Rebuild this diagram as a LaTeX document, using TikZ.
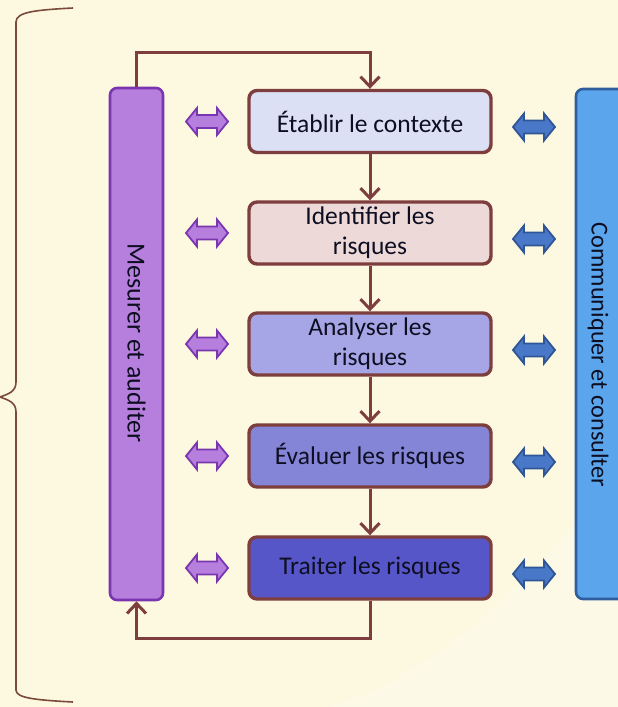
\documentclass[tikz,border=0pt]{standalone}
\usepackage{fontspec}
\setmainfont{Carlito}
\usetikzlibrary{arrows.meta,calc}
\definecolor{bg}{HTML}{FDF8E0}
\definecolor{brn}{HTML}{7E3E3E}
\definecolor{brace}{HTML}{7A4A3A}
\definecolor{purf}{HTML}{B77FDD}
\definecolor{purd}{HTML}{7A35B0}
\definecolor{bluf}{HTML}{5AA5EC}
\definecolor{blud}{HTML}{2F5E9E}
\definecolor{bluaf}{HTML}{4A78C8}
\definecolor{bluad}{HTML}{2E5596}
\definecolor{c1}{HTML}{DCE0F5}
\definecolor{c2}{HTML}{EDDAD8}
\definecolor{c3}{HTML}{A6A6E6}
\definecolor{c4}{HTML}{8585D8}
\definecolor{c5}{HTML}{5656C8}
\definecolor{txt}{HTML}{0E0E22}
\tikzset{
  stepbox/.style={draw=brn, line width=3.4pt, rounded corners=8pt, minimum width=242pt, minimum height=62pt, inner sep=0pt, align=center, text=txt, font=\fontsize{25.5}{30}\selectfont},
  flow/.style={draw=brn, line width=3pt, -{Straight Barb[length=10pt,width=19pt,line width=3pt]}},
  barlabel/.style={rotate=-90, text=txt, font=\fontsize{26}{30}\selectfont, inner sep=0pt},
  purarrow/.style={fill=purf, draw=purd, line width=1.8pt, line join=miter},
  bluarrow/.style={fill=bluaf, draw=bluad, line width=1.8pt, line join=miter},
}
\newcommand\dblarr[2]{%
  \path[#2] ($(#1)+(-21,0)$) -- ++(11,-13.5) -- ++(0,7) -- ++(20,0) -- ++(0,-7) -- ++(11,13.5) -- ++(-11,13.5) -- ++(0,-7) -- ++(-20,0) -- ++(0,7) -- cycle;}
\begin{document}
\begin{tikzpicture}[x=1pt,y=-1pt]
\clip (0,0) rectangle (618,707);
\fill[bg] (0,0) rectangle (618,707);
\fill[white,opacity=0.25] (618,470) .. controls (520,600) and (420,680) .. (330,707) -- (618,707) -- cycle;
% brace
\draw[brace, line width=1.6pt] (73,8) .. controls (35,10) and (16,12) .. (16,22) -- (16,382) .. controls (16,392) and (8,394) .. (0,397) .. controls (8,400) and (16,402) .. (16,412) -- (16,690) .. controls (16,698) and (35,700) .. (73,702);
% side bars
\node[draw=purd, fill=purf, line width=2.6pt, rounded corners=7pt, minimum width=53pt, minimum height=512pt, inner sep=0pt] (mes) at (136.5,344) {};
\node[barlabel] (meslab) at (136.5,343) {Mesurer et auditer};
\node[draw=blud, fill=bluf, line width=2.6pt, rounded corners=7pt, minimum width=70pt, minimum height=510pt, inner sep=0pt] (com) at (611,344) {};
\node[barlabel, font=\fontsize{24.3}{28}\selectfont] (comlab) at (598,355) {Communiquer et consulter};
% steps
\node[stepbox, fill=c1] (s1) at (370,121.5) {Établir le contexte};
\node[stepbox, fill=c2] (s2) at (370,233) {Identifier les\\risques};
\node[stepbox, fill=c3] (s3) at (370,344) {Analyser les\\risques};
\node[stepbox, fill=c4] (s4) at (370,456) {Évaluer les risques};
\node[stepbox, fill=c5] (s5) at (370,568) {Traiter les risques};
% flow arrows
\draw[flow] (s1.south) -- (s2.north);
\draw[flow] (s2.south) -- (s3.north);
\draw[flow] (s3.south) -- (s4.north);
\draw[flow] (s4.south) -- (s5.north);
\coordinate (topy) at (0,52);
\coordinate (boty) at (0,638);
\draw[flow] (mes.north) -- (mes.north |- topy) -- (s1.north |- topy) -- (s1.north);
\draw[flow] (s5.south) -- (s5.south |- boty) -- (mes.south |- boty) -- (mes.south);
% double arrows
\foreach \n/\y in {1/121.5,2/233,3/344,4/456,5/568}{
  \coordinate (pa\n) at (207,\y);
  \dblarr{pa\n}{purarrow}
}
\foreach \n/\y in {1/127,2/239,3/350,4/462,5/574}{
  \coordinate (ba\n) at (534,\y);
  \dblarr{ba\n}{bluarrow}
}
\end{tikzpicture}
\end{document}
